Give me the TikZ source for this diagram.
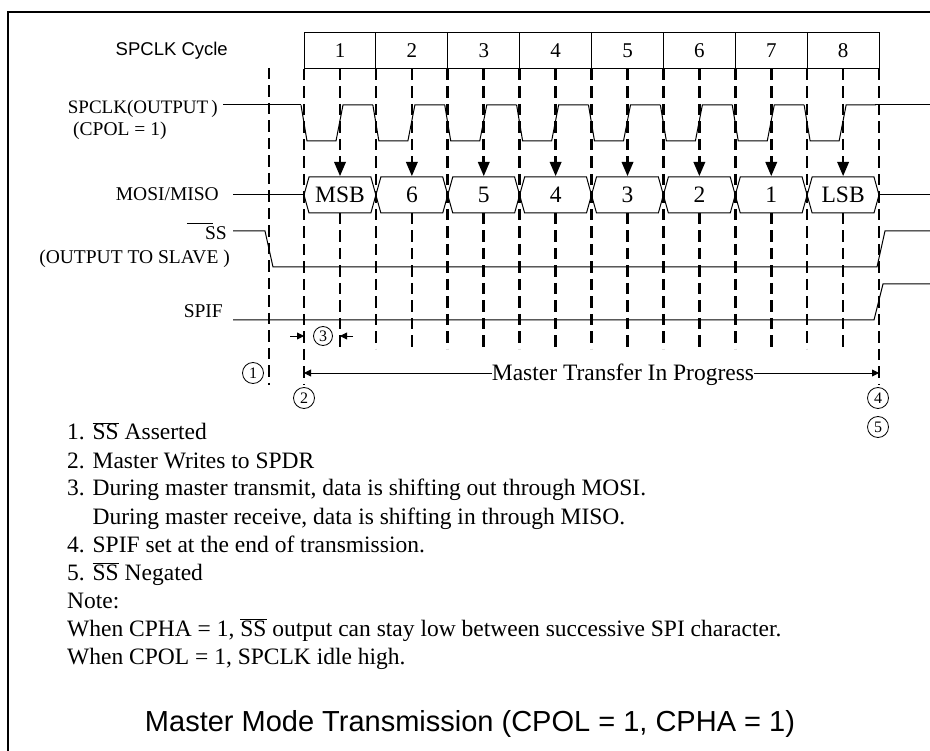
\documentclass[tikz,border=0pt]{standalone}
\usepackage{fontspec}
\setmainfont{Liberation Serif}
\setsansfont{Liberation Sans}
\usetikzlibrary{arrows.meta}

\newcommand{\nbar}[1]{$\overline{\mbox{#1}}$}

\begin{document}
\begin{tikzpicture}[x=1pt, y=-1pt,
    sig/.style={line width=1pt},
    guide/.style={line width=2.6pt, dash pattern=on 11.5pt off 6pt},
    lbl/.style={font=\fontsize{19.5}{22}\selectfont, inner sep=0pt},
    big/.style={font=\fontsize{23.5}{28}\selectfont, inner sep=0pt},
    num/.style={font=\fontsize{21}{24}\selectfont, inner sep=0pt},
    circnum/.style={circle, draw, line width=0.8pt, minimum size=21pt, inner sep=0pt, font=\fontsize{16}{16}\selectfont},
    dim/.style={-{Triangle[length=7pt, width=7pt]}, line width=0.9pt}
  ]
  \useasboundingbox (0,0) rectangle (930,751);
  % frame
  \draw[line width=2pt] (8,760) -- (8,12) -- (940,12);

  % cycle header
  \node[font=\sffamily\fontsize{18.5}{20}\selectfont, anchor=east, inner sep=0pt] (cyclbl) at (228,51) {SPCLK Cycle};
  \draw[sig] (304,33) rectangle (879,69);

  % guide lines
  \draw[guide] (269,68) -- (269,385);
  \draw[guide] (304,69) -- (304,385);
  \draw[guide] (879,69) -- (879,385);
  \foreach \k [evaluate=\k as \b using 304+71.875*\k] in {1,...,7}
    \draw[guide] (\b,69) -- (\b,349);

  % one clock cycle each
  \foreach \k/\n [count=\c, evaluate=\k as \b using 304+71.875*\k,
                  evaluate=\k as \m using 340+71.875*\k]
      in {0/MSB,1/6,2/5,3/4,4/3,5/2,6/1,7/LSB} {
    \draw[sig] (\b,33) -- (\b,69);
    \node[num] (cyc\c) at (\m,51) {\c};
    \draw[guide] (\m,69) -- (\m,162);
    \draw[guide] (\m,213) -- (\m,349);
    \fill (\m-6,162) -- (\m+6,162) -- (\m,176) -- cycle;
    \draw[sig] (\b,195) -- (\b+5,177) -- (\b+66.875,177) -- (\b+71.875,195)
      -- (\b+66.875,213) -- (\b+5,213) -- cycle;
    \node[big] (bit\c) at (\m,195) {\n};
    \draw[sig] (\b-3,105) -- (\b+3,141) -- (\m-4,141) -- (\m+3,105) -- (\b+68.875,105);
  }

  % signals
  \draw[sig] (223,105) -- (301,105);
  \draw[sig] (875,105) -- (930,105);
  \draw[sig] (233,195) -- (304,195);
  \draw[sig] (879,195) -- (930,195);
  \draw[sig] (233,231) -- (265,231) -- (273,267) -- (877,267) -- (885,231) -- (930,231);
  \draw[sig] (233,320) -- (874,320) -- (883,284) -- (930,284);

  % signal names
  \node[lbl, font=\fontsize{19}{22}\selectfont, anchor=base east] (clk) at (218,114) {SPCLK(OUTPUT\,)};
  \node[lbl, anchor=base west] (cpol) at (73,136) {(CPOL = 1)};
  \node[lbl, anchor=base east] (mosi) at (219,201) {MOSI/MISO};
  \node[lbl, anchor=base east] (ss) at (227,240) {SS};
  \draw[line width=0.9pt] ([xshift=-18pt, yshift=3.5pt]ss.north west) -- ([xshift=-14pt, yshift=3.5pt]ss.north east);
  \node[lbl, anchor=base east] (slave) at (230,264) {(OUTPUT TO SLAVE )};
  \node[lbl, anchor=base east] (spif) at (223,318) {SPIF};

  % numbered events
  \node[circnum, minimum size=19pt] (ev3) at (323,336) {3};
  \coordinate (t3a) at (290,336);
  \coordinate (t3b) at (353,336);
  \draw[dim] (t3a) -- (304,336);
  \draw[dim] (t3b) -- (340,336);
  \node[circnum] (ev1) at (253,373) {1};
  \node[circnum] (ev2) at (304,398) {2};
  \node[circnum] (ev4) at (878,398) {4};
  \node[circnum] (ev5) at (878,427) {5};

  % transfer span
  \coordinate (xs) at (304,373);
  \coordinate (xe) at (879,373);
  \node[big, anchor=base] (xfer) at (623,381) {Master Transfer In Progress};
  \draw[dim] (xfer.west |- xs) -- (xs);
  \draw[dim] (xfer.east |- xe) -- (xe);

  % notes
  \foreach \t [count=\i] in {{1. \nbar{SS} Asserted},
      {2. Master Writes to SPDR},
      {3. During master transmit, data is shifting out through MOSI.},
      {\phantom{3. }During master receive, data is shifting in through MISO.},
      {4. SPIF set at the end of transmission.},
      {5. \nbar{SS} Negated},
      {Note:},
      {When CPHA = 1, \nbar{SS} output can stay low between successive SPI character.},
      {When CPOL = 1, SPCLK idle high.}}
    \node[big, anchor=base west] (note\i) at (67,412+28*\i) {\t};

  \node[font=\sffamily\fontsize{29}{32}\selectfont, anchor=base, inner sep=0pt] (title) at (470,731)
    {Master Mode Transmission (CPOL = 1, CPHA = 1)};
\end{tikzpicture}
\end{document}
